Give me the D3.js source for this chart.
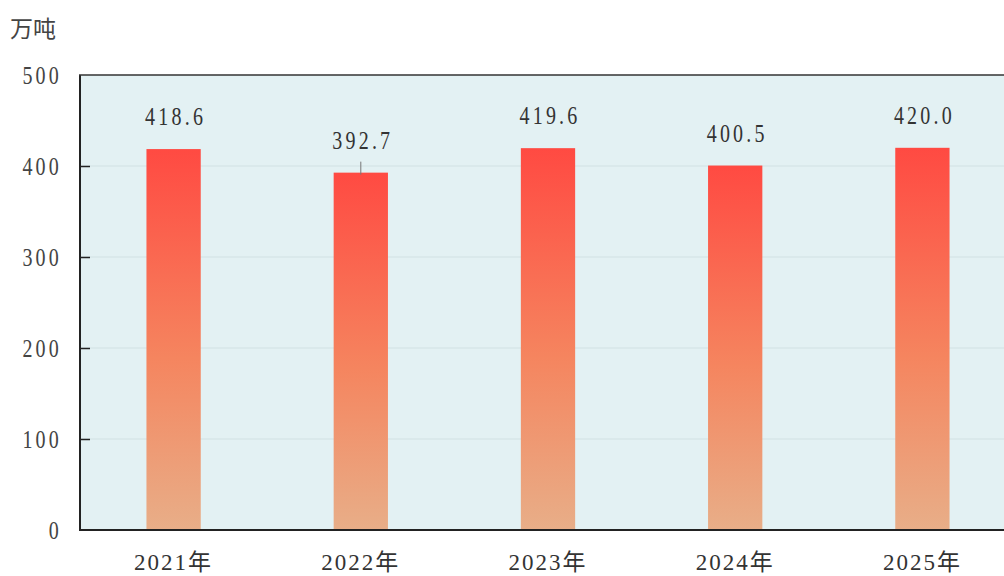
<!DOCTYPE html>
<html><head><meta charset="utf-8">
<script src="https://cdn.jsdelivr.net/npm/d3@7"></script>
<style>body{margin:0;background:#fff;}svg{display:block;}</style>
</head><body>
<svg id="c" width="1004" height="576"></svg>
<script>
const categories = ["2021年","2022年","2023年","2024年","2025年"];
const values = [418.6, 392.7, 419.6, 400.5, 420.0];
const valueLabels = ["418.6","392.7","419.6","400.5","420.0"];
const leaderLines = [false, true, false, false, false];
const yTicks = [0,100,200,300,400,500];
const unitLabel = "万吨";

const svg = d3.select("#c");
const W = 1004, H = 576;
const plotBottom = 530;
const x = d3.scaleBand().domain(categories).range([80, 1016]).paddingInner(0.71).paddingOuter(0.355);
const y = d3.scaleLinear().domain([0,500]).range([plotBottom, 75]);
const SX = 0.8;

const defs = svg.append("defs");
const g = defs.append("linearGradient").attr("id","barGrad").attr("x1",0).attr("y1",0).attr("x2",0).attr("y2",1);
g.append("stop").attr("offset","0%").attr("stop-color","#ff4a42");
g.append("stop").attr("offset","55%").attr("stop-color","#f5855f");
g.append("stop").attr("offset","100%").attr("stop-color","#e8ae88");

svg.append("rect").attr("x",80).attr("y",y(500)).attr("width",W-80).attr("height",plotBottom-y(500)).attr("fill","#e3f1f3");

svg.append("g").selectAll("line").data(yTicks.filter(d=>d>0&&d<500)).join("line")
  .attr("x1",80).attr("x2",W).attr("y1",d=>y(d)).attr("y2",d=>y(d))
  .attr("stroke","#d2e1e4").attr("stroke-width",1.2);

svg.append("g").selectAll("rect").data(values).join("rect")
  .attr("x",(d,i)=>x(categories[i])).attr("width",x.bandwidth())
  .attr("y",d=>y(d)).attr("height",d=>plotBottom-y(d))
  .attr("fill","url(#barGrad)");

svg.append("g").selectAll("line").data(values.map((v,i)=>({v,i})).filter(d=>leaderLines[d.i])).join("line")
  .attr("x1",d=>x(categories[d.i])+x.bandwidth()/2).attr("x2",d=>x(categories[d.i])+x.bandwidth()/2)
  .attr("y1",d=>y(d.v)-11).attr("y2",d=>y(d.v)+2)
  .attr("stroke","#777").attr("stroke-width",1);

const numFont = "'Liberation Serif','DejaVu Serif',serif";
svg.append("g").selectAll("text").data(values).join("text")
  .attr("transform",(d,i)=>`translate(${x(categories[i])+x.bandwidth()/2+2},${y(d)-24}) scale(${SX},1)`)
  .attr("text-anchor","middle")
  .attr("font-family",numFont).attr("font-size",25).attr("letter-spacing","4px")
  .attr("fill","#333")
  .text((d,i)=>valueLabels[i]);

const yAxis = d3.axisLeft(y).tickValues(yTicks).tickSize(-10).tickPadding(20).tickFormat(d3.format("d"));
const ya = svg.append("g").attr("transform","translate(80,0)").call(yAxis);
ya.select(".domain").remove();
ya.selectAll(".tick line").attr("stroke","#222").attr("stroke-width",1.5);
ya.selectAll(".tick").filter(d=>d===0||d===500).select("line").remove();
ya.selectAll("text").attr("font-family",numFont).attr("font-size",25).attr("letter-spacing","4px").attr("fill","#444")
  .attr("dy","0.32em").attr("x",-18/SX).attr("transform",`scale(${SX},1)`);

svg.append("line").attr("x1",80).attr("x2",80).attr("y1",y(500)).attr("y2",plotBottom+1).attr("stroke","#222").attr("stroke-width",2);
svg.append("line").attr("x1",79).attr("x2",W).attr("y1",plotBottom).attr("y2",plotBottom).attr("stroke","#222").attr("stroke-width",2);
svg.append("line").attr("x1",79).attr("x2",W).attr("y1",y(500)).attr("y2",y(500)).attr("stroke","#333").attr("stroke-width",1.5);

const xAxis = d3.axisBottom(x).tickSize(0).tickPadding(0);
const xa = svg.append("g").attr("transform",`translate(0,${plotBottom})`).call(xAxis);
xa.select(".domain").remove();
xa.selectAll("text").attr("y",40).attr("dy",0).attr("font-family","'Liberation Serif','Noto Sans CJK SC',serif")
  .attr("font-size",23).attr("letter-spacing","2px").attr("fill","#333");

svg.append("text").attr("x",10).attr("y",37).attr("font-family","'Noto Sans CJK SC',sans-serif")
  .attr("font-size",23).attr("fill","#444").text(unitLabel);
</script>
</body></html>
